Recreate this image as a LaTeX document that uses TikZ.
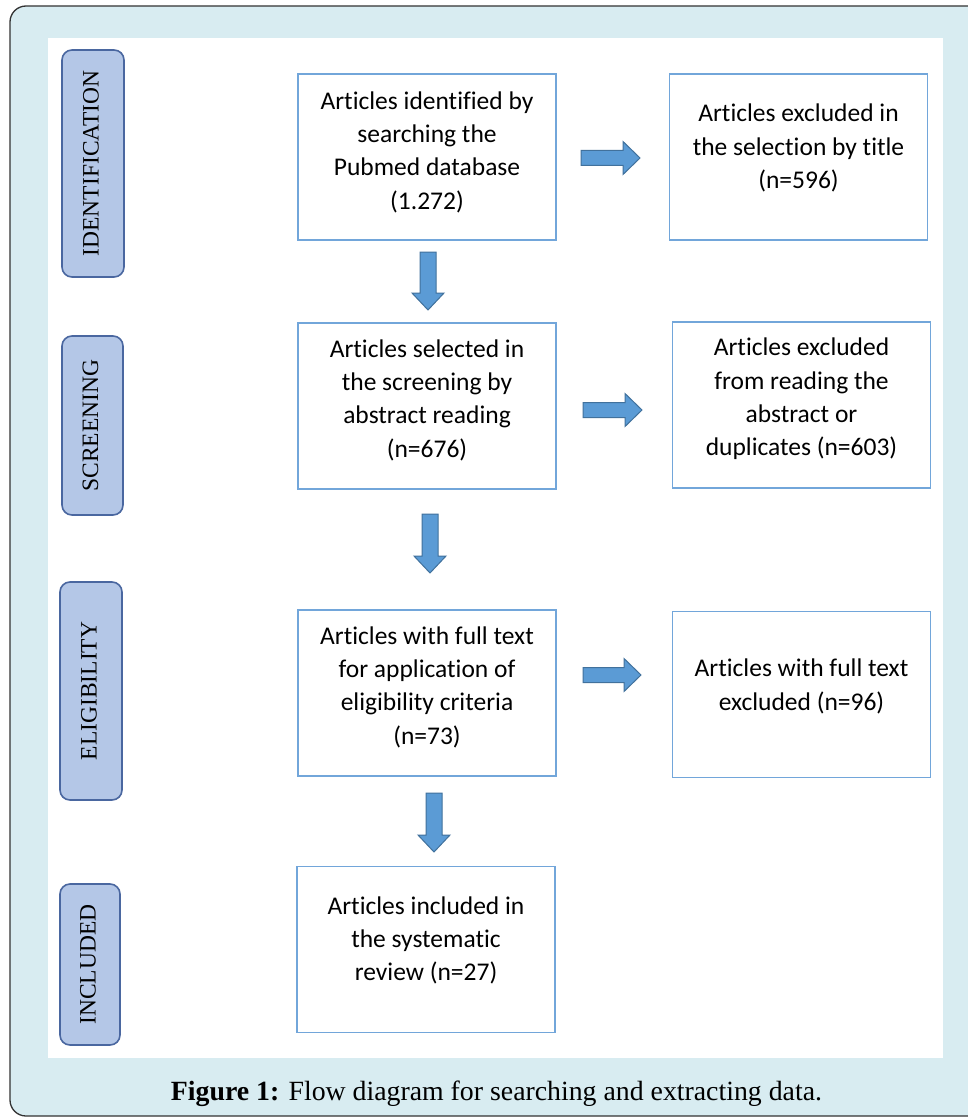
\documentclass[tikz,border=0pt]{standalone}
\usepackage{fontspec}
\setmainfont{Liberation Serif}
\newfontfamily\boxfont[Ligatures=NoCommon]{Carlito}
\newfontfamily\stagefont{Liberation Serif}
\newfontfamily\capfont{Liberation Serif}
\usetikzlibrary{calc}
\definecolor{bgblue}{HTML}{D8ECF1}
\definecolor{stagefill}{HTML}{B4C7E7}
\definecolor{stageedge}{HTML}{4A67A0}
\definecolor{boxedge}{HTML}{72A6DA}
\definecolor{arrfill}{HTML}{5B9BD5}
\definecolor{arredge}{HTML}{41719C}
\tikzset{
  stagebox/.style={draw=stageedge, fill=stagefill, line width=1.6pt, rounded corners=10pt, inner sep=0pt},
  stagetext/.style={font=\stagefont\fontsize{23.5}{23.5}\selectfont, rotate=90, text=black},
  flowbox/.style={draw=boxedge, line width=1.8pt, fill=white, inner sep=0pt, minimum width=258pt, minimum height=166pt},
  flowtext/.style={font=\boxfont\fontsize{25.5}{33.3}\selectfont, align=center, text=black},
  blockarr/.style={draw=arredge, fill=arrfill, line width=1pt, line join=miter},
}
\newcommand\harrow[2]{\draw[blockarr] let \p1=(#1), \p2=(#2) in
  (\x1,\y1+7.5pt) -- (\x2-17pt,\y1+7.5pt) -- (\x2-17pt,\y1+16.5pt) -- (\x2,\y1)
  -- (\x2-17pt,\y1-16.5pt) -- (\x2-17pt,\y1-7.5pt) -- (\x1,\y1-7.5pt) -- cycle;}
\newcommand\varrow[2]{\draw[blockarr] let \p1=(#1), \p2=(#2) in
  (\x1-8pt,\y1) -- (\x1-8pt,\y2+17pt) -- (\x1-16pt,\y2+17pt) -- (\x1,\y2)
  -- (\x1+16pt,\y2+17pt) -- (\x1+8pt,\y2+17pt) -- (\x1+8pt,\y1) -- cycle;}
\begin{document}
\begin{tikzpicture}[x=1pt,y=-1pt]
\useasboundingbox (0,0) rectangle (968,1118);
% outer panel
\draw[fill=bgblue, draw=black!80, line width=1.3pt, rounded corners=16pt] (10,6) rectangle (1000,1116);
\fill[white] (48,38) rectangle (943,1058);
% stage labels
\node[stagebox, minimum width=62pt, minimum height=227pt] (sid) at (93,163.5) {};
\node[stagetext] (sidt) at ($(sid.center)+(-2,0)$) {IDENTIFICATION};
\node[stagebox, minimum width=61pt, minimum height=179pt] (ssc) at (92.5,425.5) {};
\node[stagetext] (ssct) at ($(ssc.center)+(-2,0)$) {SCREENING};
\node[stagebox, minimum width=62pt, minimum height=218pt] (sel) at (91,691) {};
\node[stagetext] (selt) at ($(sel.center)+(-2,0)$) {ELIGIBILITY};
\node[stagebox, minimum width=60pt, minimum height=161pt] (sin) at (90,964.5) {};
\node[stagetext] (sint) at ($(sin.center)+(-2,0)$) {INCLUDED};
% main boxes
\node[flowbox] (b1) at (427,157) {};
\node[flowtext] (b1t) at ($(b1.center)+(0,-5)$) {Articles identified by\\searching the\\Pubmed database\\(1.272)};
\node[flowbox] (b2) at (427,406) {};
\node[flowtext] (b2t) at ($(b2.center)+(0,-6)$) {Articles selected in\\the screening by\\abstract reading\\(n=676)};
\node[flowbox] (b3) at (427,693) {};
\node[flowtext] (b3t) at ($(b3.center)+(0,-6)$) {Articles with full text\\for application of\\eligibility criteria\\(n=73)};
\node[flowbox] (b4) at (426,949.5) {};
\node[flowtext] (b4t) at ($(b4.center)+(0,-9)$) {Articles included in\\the systematic\\review (n=27)};
% right boxes
\node[flowbox] (r1) at (798.5,157) {};
\node[flowtext] (r1t) at ($(r1.center)+(0,-9)$) {Articles excluded in\\the selection by title\\(n=596)};
\node[flowbox] (r2) at (801.5,405) {};
\node[flowtext] (r2t) at ($(r2.center)+(0,-6)$) {Articles excluded\\from reading the\\abstract or\\duplicates (n=603)};
\node[flowbox] (r3) at (801.5,694.5) {};
\node[flowtext] (r3t) at ($(r3.center)+(0,-8)$) {Articles with full text\\excluded (n=96)};
% arrow end points
\coordinate (h1s) at (581,158);
\coordinate (h1e) at (640,158);
\coordinate (h2s) at (583,410);
\coordinate (h2e) at (642,410);
\coordinate (h3s) at (583,675);
\coordinate (h3e) at (641,675);
\coordinate (v1s) at (428,252);
\coordinate (v1e) at (428,310);
\coordinate (v2s) at (430,514);
\coordinate (v2e) at (430,573);
\coordinate (v3s) at (434,793);
\coordinate (v3e) at (434,852);
\harrow{h1s}{h1e}
\harrow{h2s}{h2e}
\harrow{h3s}{h3e}
\varrow{v1s}{v1e}
\varrow{v2s}{v2e}
\varrow{v3s}{v3e}
% caption
\node[font=\capfont\fontsize{27.8}{27.8}\selectfont, text=black] (cap) at (496.5,1094) {\textbf{Figure 1:} Flow diagram for searching and extracting data.};
\end{tikzpicture}
\end{document}
